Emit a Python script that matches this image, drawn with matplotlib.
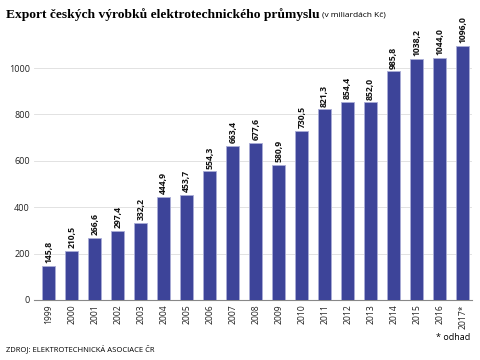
import matplotlib
matplotlib.use("Agg")
import matplotlib.pyplot as plt

plt.rcParams['font.family'] = ['Open Sans', 'DejaVu Sans']

years = ["1999", "2000", "2001", "2002", "2003", "2004", "2005", "2006", "2007", "2008",
         "2009", "2010", "2011", "2012", "2013", "2014", "2015", "2016", "2017*"]
values = [145.8, 210.5, 266.6, 297.4, 332.2, 444.9, 453.7, 554.3, 663.4, 677.6,
          580.9, 730.5, 821.3, 854.4, 852.0, 985.8, 1038.2, 1044.0, 1096.0]
yticks = [0, 200, 400, 600, 800, 1000]

fig = plt.figure(figsize=(4.8, 3.6), dpi=100)
ax = fig.add_axes([0.0708, 0.1667, 0.9122, 0.741])

x = list(range(len(years)))
ax.bar(x, values, width=0.57, color="#3d4499", edgecolor="#a9acd6", linewidth=0.6, zorder=3)
for xi, v in zip(x, values):
    ax.text(xi, v + 12, f"{v:.1f}".replace(".", ","), rotation=90, ha="center", va="bottom",
            fontsize=6.2, fontweight="bold", color="#111111")

ax.set_xlim(-0.65, 18.4)
ax.set_ylim(0, 1150)
ax.set_yticks(yticks)
ax.set_yticklabels([str(t) for t in yticks], fontsize=6.5, color="#222222")
ax.set_xticks(x)
ax.set_xticklabels(years, rotation=90, fontsize=6.2, color="#222222")
ax.tick_params(axis="both", length=0, pad=3)
ax.grid(axis="y", color="#dddddd", linewidth=0.6, zorder=0)
for s in ["top", "right", "left"]:
    ax.spines[s].set_visible(False)
ax.spines["bottom"].set_color("#888888")
ax.spines["bottom"].set_linewidth(0.8)

fig.text(6/480, 1-15/360, "Export českých výrobků elektrotechnického průmyslu",
         family=["Liberation Serif"], fontweight="bold", fontsize=9.7, va="center", ha="left")
fig.text(322/480, 1-15/360, "(v miliardách Kč)", fontsize=6, va="center", ha="left")
fig.text(470/480, 1-337/360, "* odhad", fontsize=6.5, ha="right", va="center")
fig.text(6/480, 1-349/360, "ZDROJ: ELEKTROTECHNICKÁ ASOCIACE ČR", fontsize=5.5, ha="left", va="center")

fig.savefig("out.png", dpi=100)
